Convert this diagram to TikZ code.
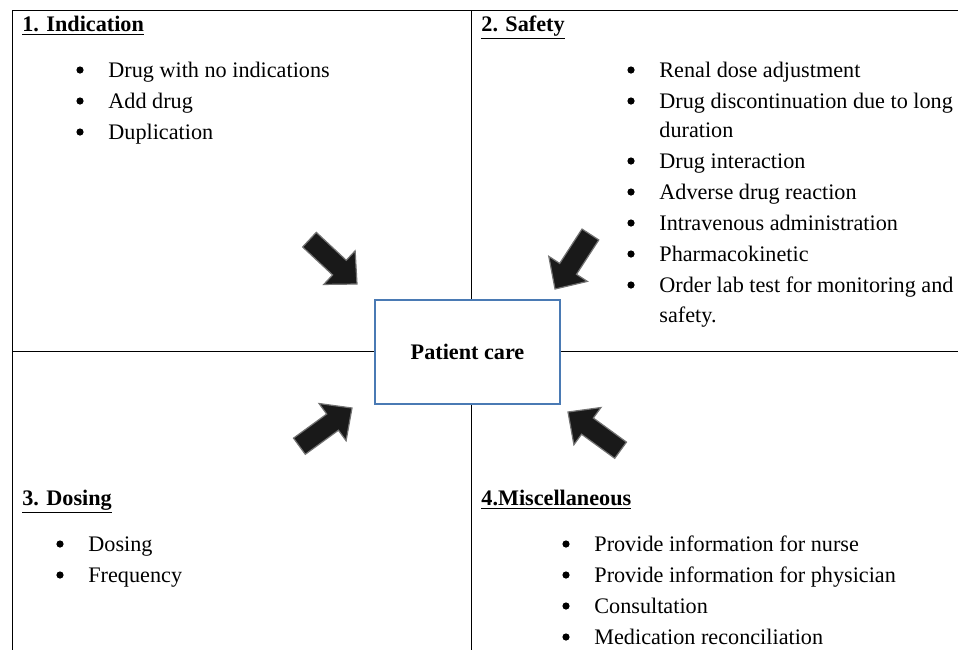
\documentclass[tikz,border=0pt]{standalone}
\usepackage{fontspec}
\setmainfont{Liberation Serif}
\definecolor{boxblue}{RGB}{74,122,180}
\newcommand\bodyfont{\fontsize{11.1}{14}\selectfont}

\tikzset{
  grid line/.style={black,line width=0.5pt},
  heading/.style={anchor=base west,inner sep=0pt,font=\bodyfont\bfseries},
  item/.style={anchor=base west,inner sep=0pt,font=\bodyfont},
  dot/.style={circle,fill=black,inner sep=0pt,minimum size=3.6pt},
  care box/.style={draw=boxblue,line width=0.9pt,fill=white,
     minimum width=92.5pt,minimum height=52pt,font=\bodyfont\bfseries},
  block arrow/.style={fill=black!90,draw=black!55,line width=0.6pt,line join=miter}
}

\begin{document}
\begin{tikzpicture}[x=0.5pt,y=-0.5pt]
            \useasboundingbox (0,0) rectangle (958,650);

            % quadrant lines
            \draw [grid line] (12,10) -- (958,10);
            \draw [grid line] (12,10) -- (12,650);
            \draw [grid line] (471,10) -- (471,650);
            \draw [grid line] (12,351) -- (958,351);

            \node [care box] (care) at (467.5,352) {Patient care};

            % headings
            \node [heading] (indication) at (22,31) {\underline{1. Indication}};
            \node [heading] (safety) at (481,31) {\underline{2. Safety}};
            \node [heading] (dosing) at (22,505) {\underline{3. Dosing}};
            \node [heading] (misc) at (481,505) {\underline{4.Miscellaneous}};

            % 1. Indication
            \foreach \y/\txt [count=\i] in {77/Drug with no indications,
               108/Add drug, 139/Duplication} {
               \node [dot] (ind dot\i) at (80,\y-7) {};
               \node [item] (ind item\i) at (108,\y) {\txt};
            }

            % 2. Safety
            \foreach \y/\txt [count=\i] in {77/Renal dose adjustment,
               108/Drug discontinuation due to long, 168/Drug interaction,
               199/Adverse drug reaction, 230/Intravenous administration,
               261/Pharmacokinetic, 292/Order lab test for monitoring and} {
               \node [dot] (saf dot\i) at (631,\y-7) {};
               \node [item] (saf item\i) at (659,\y) {\txt};
            }
            \node [item] (saf wrap1) at (659,137) {duration};
            \node [item] (saf wrap2) at (659,322) {safety.};

            % 3. Dosing
            \foreach \y/\txt [count=\i] in {551/Dosing, 582/Frequency} {
               \node [dot] (dos dot\i) at (60,\y-7) {};
               \node [item] (dos item\i) at (88,\y) {\txt};
            }

            % 4. Miscellaneous
            \foreach \y/\txt [count=\i] in {551/Provide information for nurse,
               582/Provide information for physician, 613/Consultation,
               644/Medication reconciliation} {
               \node [dot] (mis dot\i) at (566,\y-7) {};
               \node [item] (mis item\i) at (594,\y) {\txt};
            }

            % arrows towards the box
            \foreach \tipx/\tipy/\ang in {357/284/-43, 555/289/-123,
               352/408/36, 568/412/144}
               \filldraw [block arrow,shift={(\tipx,\tipy)},rotate=\ang]
                  (0,0) -- (-24,-23) -- (-24,-10) -- (-65,-10)
                  -- (-65,10) -- (-24,10) -- (-24,23) -- cycle;
         \end{tikzpicture}
\end{document}
